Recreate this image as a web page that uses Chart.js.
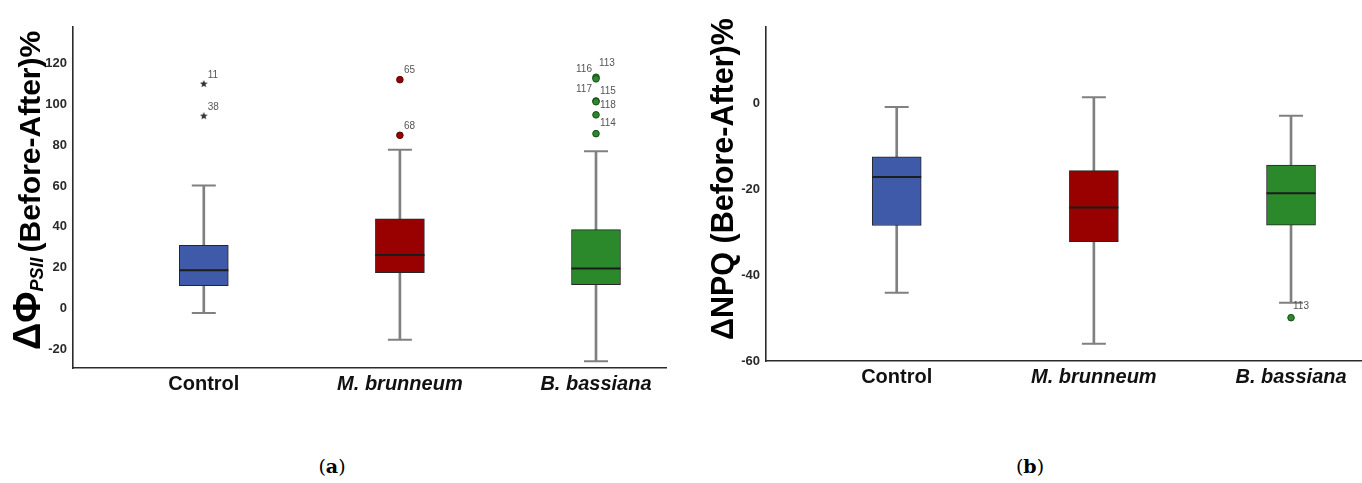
<!DOCTYPE html>
<html>
<head>
<meta charset="utf-8">
<script src="https://cdn.jsdelivr.net/npm/chart.js@4.4.1/dist/chart.umd.min.js"></script>
<style>
  html, body { margin: 0; padding: 0; background: #fff; }
  body { width: 1362px; height: 483px; position: relative; overflow: hidden; }
  #wrapA { position: absolute; left: 0; top: 0; width: 700px; height: 400px; }
  #wrapB { position: absolute; left: 690px; top: 0; width: 700px; height: 400px; }
  .cap { position: absolute; top: 455px; width: 80px; text-align: center;
         font-family: "DejaVu Serif", "Liberation Serif", serif; font-size: 19px; color: #000; }
</style>
</head>
<body>
<div id="wrapA"><canvas id="chartA" width="700" height="400"></canvas></div>
<div id="wrapB"><canvas id="chartB" width="700" height="400"></canvas></div>
<div class="cap" style="left:292px">(<b>a</b>)</div>
<div class="cap" style="left:990px">(<b>b</b>)</div>

<script>
// ---- data ----
const categories = ['Control', 'M. brunneum', 'B. bassiana'];

// ΔΦPSII (Before-After)%
const phiWhiskerLow  = [-2.1, -15.2, -25.7];
const phiQ1          = [11.2, 17.6, 11.8];
const phiMedian      = [18.8, 26.2, 19.6];
const phiQ3          = [31.0, 44.0, 38.7];
const phiWhiskerHigh = [60.3, 77.7, 77.0];
const phiOutlierGroup = [0, 0, 1, 1, 2, 2, 2, 2, 2, 2];
const phiOutlierValue = [109.9, 94.2, 112.0, 84.8, 113.2, 112.4, 101.6, 101.2, 94.8, 85.6];
const phiOutlierId    = ['11', '38', '65', '68', '113', '116', '115', '117', '118', '114'];
const phiTicks = [-20, 0, 20, 40, 60, 80, 100, 120];

// ΔNPQ (Before-After)%
const npqWhiskerLow  = [-44.1, -56.0, -46.4];
const npqQ1          = [-28.4, -32.2, -28.3];
const npqMedian      = [-17.1, -24.2, -20.9];
const npqQ3          = [-12.4, -15.6, -14.3];
const npqWhiskerHigh = [-0.75, 1.5, -2.8];
const npqOutlierGroup = [2];
const npqOutlierValue = [-49.9];
const npqOutlierId    = ['113'];
const npqTicks = [-60, -40, -20, 0];

// ---- styling ----
const boxFill    = ['#3f5aa8', '#990000', '#2b892b'];
const dotFill    = ['#333333', '#990000', '#2b892b'];
const dotBorder  = ['#333333', '#5a0000', '#164d16'];
const whiskerCol = '#808080';

// label placement next to each outlier (dx, dy in px)
const phiLabelDx = [4, 4, 4, 4, 3, -4, 4, -4, 4, 4];
const phiLabelDy = [-9, -9, -9, -9, -14, -10, -10, -13, -10, -10];
const npqLabelDx = [2];
const npqLabelDy = [-11];

Chart.defaults.font.family = '"Liberation Sans", Arial, sans-serif';
Chart.defaults.animation = false;

// small filled star used for extreme values
function makeStar(size, color) {
  const c = document.createElement('canvas');
  c.width = size; c.height = size;
  const g = c.getContext('2d');
  const cx = size / 2, cy = size / 2, ro = size / 2, ri = ro * 0.45;
  g.beginPath();
  for (let i = 0; i < 10; i++) {
    const r = i % 2 ? ri : ro;
    const a = -Math.PI / 2 + i * Math.PI / 5;
    g.lineTo(cx + r * Math.cos(a), cy + r * Math.sin(a));
  }
  g.closePath();
  g.fillStyle = color;
  g.fill();
  return c;
}
const starImg = makeStar(8, '#333');

// draws the id number beside each outlier point
const outlierLabels = {
  id: 'outlierLabels',
  afterDatasetsDraw(chart) {
    const ctx = chart.ctx;
    chart.data.datasets.forEach((ds, di) => {
      if (!ds.outlierIds) return;
      const meta = chart.getDatasetMeta(di);
      ctx.save();
      ctx.font = '10px "Liberation Sans", Arial, sans-serif';
      ctx.fillStyle = '#555';
      ctx.textBaseline = 'middle';
      meta.data.forEach((pt, i) => {
        const dx = ds.labelDx[i], dy = ds.labelDy[i];
        ctx.textAlign = dx < 0 ? 'right' : 'left';
        ctx.fillText(ds.outlierIds[i], pt.x + dx, pt.y + dy);
      });
      ctx.restore();
    });
  }
};

// rotated y-axis title built from several text runs
const yTitle = {
  id: 'yTitle',
  afterDraw(chart, args, opts) {
    if (!opts.parts) return;
    const ctx = chart.ctx;
    ctx.save();
    ctx.translate(opts.x, opts.y);
    ctx.rotate(-Math.PI / 2);
    ctx.fillStyle = '#000';
    ctx.textAlign = 'left';
    ctx.textBaseline = 'alphabetic';
    let cx = 0;
    opts.parts.forEach(p => {
      ctx.font = p.font;
      cx += p.gap || 0;
      ctx.fillText(p.text, cx, p.dy || 0);
      cx += ctx.measureText(p.text).width;
    });
    ctx.restore();
  }
};

function buildChart(canvasId, d) {
  const idx = categories.map((c, i) => i);
  const datasets = [
    { // boxes (Q1–Q3)
      type: 'bar', order: 2, grouped: false,
      data: idx.map(i => ({ x: i, y: [d.q1[i], d.q3[i]] })),
      backgroundColor: boxFill, borderColor: '#262626', borderWidth: 1,
      borderSkipped: false, barThickness: 49
    },
    { // whisker stems
      type: 'bar', order: 3, grouped: false,
      data: idx.map(i => ({ x: i, y: [d.low[i], d.high[i]] })),
      backgroundColor: whiskerCol, borderWidth: 0, barThickness: 2
    },
    { // medians
      type: 'scatter', order: 1,
      data: idx.map(i => ({ x: i, y: d.median[i] })),
      pointStyle: 'line', pointRadius: 24.5, pointBorderWidth: 2,
      pointBorderColor: '#1c1c1c', pointBackgroundColor: '#1c1c1c'
    },
    { // whisker caps
      type: 'scatter', order: 1,
      data: idx.map(i => ({ x: i, y: d.low[i] })).concat(idx.map(i => ({ x: i, y: d.high[i] }))),
      pointStyle: 'line', pointRadius: 12, pointBorderWidth: 2,
      pointBorderColor: whiskerCol, pointBackgroundColor: whiskerCol
    },
    { // outliers / extremes
      type: 'scatter', order: 0,
      data: d.outGroup.map((g, i) => ({ x: g, y: d.outVal[i] })),
      pointStyle: d.outGroup.map(g => g === 0 ? starImg : 'circle'),
      pointRadius: 3.3, pointBorderWidth: 1,
      pointBackgroundColor: d.outGroup.map(g => dotFill[g]),
      pointBorderColor: d.outGroup.map(g => dotBorder[g]),
      outlierIds: d.outId, labelDx: d.labelDx, labelDy: d.labelDy
    }
  ];

  return new Chart(document.getElementById(canvasId), {
    type: 'bar',
    data: { datasets },
    plugins: [outlierLabels, yTitle],
    options: {
      responsive: false,
      animation: false,
      layout: { padding: d.padding },
      plugins: {
        legend: { display: false },
        tooltip: { enabled: false },
        yTitle: d.title
      },
      scales: {
        x: {
          type: 'linear', min: d.xMin, max: d.xMax, offset: false,
          grid: { display: false, drawTicks: false, offset: false },
          border: { display: true, color: '#2b2b2b', width: 1.6 },
          afterBuildTicks: s => { s.ticks = idx.map(i => ({ value: i })); },
          afterFit: s => { s.height = d.xHeight; },
          ticks: {
            autoSkip: false, maxRotation: 0, padding: 4, color: '#111',
            callback: v => categories[v],
            font: ctx => ({ size: 20, weight: 'bold', style: ctx.index > 0 ? 'italic' : 'normal' })
          }
        },
        y: {
          type: 'linear', min: d.yMin, max: d.yMax,
          grid: { display: false, drawTicks: false },
          border: { display: true, color: '#2b2b2b', width: 1.6 },
          afterBuildTicks: s => { s.ticks = d.ticks.map(v => ({ value: v })); },
          afterFit: s => { s.width = d.yWidth; },
          ticks: { padding: 6, color: '#2a2a2a', font: { size: 13, weight: 'bold' } }
        }
      }
    }
  });
}

buildChart('chartA', {
  q1: phiQ1, q3: phiQ3, median: phiMedian, low: phiWhiskerLow, high: phiWhiskerHigh,
  outGroup: phiOutlierGroup, outVal: phiOutlierValue, outId: phiOutlierId,
  labelDx: phiLabelDx, labelDy: phiLabelDy,
  ticks: phiTicks, yMin: -29, yMax: 138, xMin: -0.667, xMax: 2.357,
  padding: { left: 0, top: 24, right: 34, bottom: 0 }, xHeight: 32, yWidth: 73,
  title: {
    x: 40, y: 350,
    parts: [
      { text: 'ΔΦ', font: 'bold 38px "Liberation Sans", Arial, sans-serif' },
      { text: 'PSII', font: 'italic bold 18px "Liberation Sans", Arial, sans-serif', dy: 3 },
      { text: '(Before-After)%', font: 'bold 30px "Liberation Sans", Arial, sans-serif', gap: 5 }
    ]
  }
});

buildChart('chartB', {
  q1: npqQ1, q3: npqQ3, median: npqMedian, low: npqWhiskerLow, high: npqWhiskerHigh,
  outGroup: npqOutlierGroup, outVal: npqOutlierValue, outId: npqOutlierId,
  labelDx: npqLabelDx, labelDy: npqLabelDy,
  ticks: npqTicks, yMin: -60, yMax: 18, xMin: -0.663, xMax: 2.36,
  padding: { left: 0, top: 16, right: 28, bottom: 0 }, xHeight: 39, yWidth: 76,
  title: {
    x: 43, y: 340,
    parts: [
      { text: 'ΔNPQ (Before-After)%', font: 'bold 30.5px "Liberation Sans", Arial, sans-serif' }
    ]
  }
});
</script>
</body>
</html>
